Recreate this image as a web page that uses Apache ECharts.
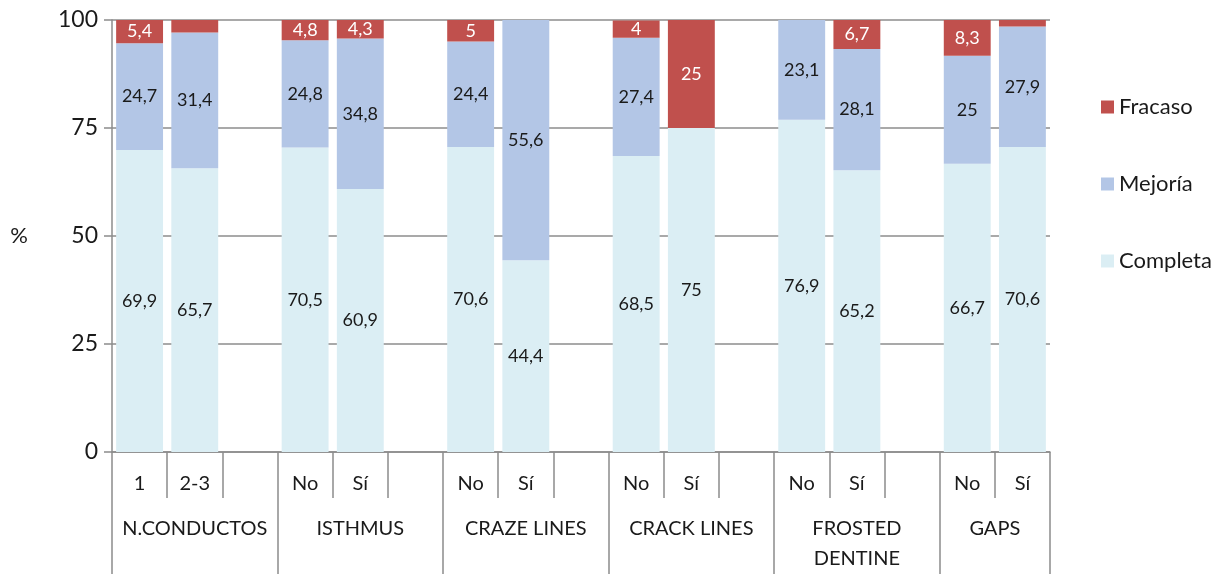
<!DOCTYPE html>
<html>
<head>
<meta charset="utf-8">
<script src="https://cdn.jsdelivr.net/npm/echarts@6/dist/echarts.min.js"></script>
<style>
  html, body { margin: 0; padding: 0; background: #fff; }
  #chart { width: 1231px; height: 574px; }
</style>
</head>
<body>
<div id="chart"></div>
<script>
// Factor groups and their sub-categories
const groups = ['N.CONDUCTOS', 'ISTHMUS', 'CRAZE LINES', 'CRACK LINES', 'FROSTED\nDENTINE', 'GAPS'];
const subLabels = [['1', '2-3'], ['No', 'Sí'], ['No', 'Sí'], ['No', 'Sí'], ['No', 'Sí'], ['No', 'Sí']];

// Outcome percentages per group (one value per sub-category)
const completa = [[69.9, 65.7], [70.5, 60.9], [70.6, 44.4], [68.5, 75], [76.9, 65.2], [66.7, 70.6]];
const mejoria  = [[24.7, 31.4], [24.8, 34.8], [24.4, 55.6], [27.4, 0],  [23.1, 28.1], [25, 27.9]];
const fracaso  = [[5.4, 2.9],   [4.8, 4.3],   [5, 0],       [4, 25],    [0, 6.7],     [8.3, 1.5]];

const yTicks = [0, 25, 50, 75, 100];

// Build the flat slot list: each group's bars followed by an empty spacer slot
const slots = [];
const dCompleta = [], dMejoria = [], dFracaso = [];
const groupCenters = {};
groups.forEach((g, gi) => {
  const start = slots.length;
  subLabels[gi].forEach((s, si) => {
    slots.push(s);
    dCompleta.push(completa[gi][si]);
    dMejoria.push(mejoria[gi][si]);
    dFracaso.push(fracaso[gi][si]);
  });
  if (gi < groups.length - 1) {
    slots.push('');
    dCompleta.push(null); dMejoria.push(null); dFracaso.push(null);
  }
  const end = slots.length;
  groupCenters[((start + end) / 2).toFixed(1)] = g;
});
const nSlots = slots.length;

const FONT = 'Lato, "Open Sans", "Noto Sans", sans-serif';
const GRID_COL = '#8c8c8c';
const TEXT_COL = '#1a1a1a';

const fmt = v => String(v).replace('.', ',');
const labelFor = color => ({
  show: true,
  position: 'inside',
  fontFamily: FONT,
  fontSize: 18,
  color: color,
  formatter: p => (p.value == null || p.value < 3) ? '' : fmt(p.value)
});

const chart = echarts.init(document.getElementById('chart'), null, { renderer: 'canvas' });

chart.setOption({
  animation: false,
  backgroundColor: '#ffffff',
  textStyle: { fontFamily: FONT },
  grid: { left: 112, right: 181, top: 20, bottom: 119, containLabel: false },
  legend: {
    orient: 'vertical',
    left: 1096,
    top: 90,
    icon: 'rect',
    itemWidth: 13,
    itemHeight: 13,
    itemGap: 53,
    data: ['Fracaso', 'Mejoría', 'Completa'],
    textStyle: { fontFamily: FONT, fontSize: 22, color: TEXT_COL, lineHeight: 24 }
  },
  xAxis: [
    {
      type: 'category',
      data: slots,
      position: 'bottom',
      axisLine: { show: true, lineStyle: { color: GRID_COL, width: 1.5 } },
      axisTick: { show: true, length: 46, lineStyle: { color: GRID_COL, width: 1.5 } },
      axisLabel: { fontFamily: FONT, fontSize: 20, color: TEXT_COL, margin: 22, interval: 0 }
    },
    {
      // group separators
      type: 'value',
      min: 0,
      max: nSlots,
      interval: 3,
      position: 'bottom',
      axisLine: { show: false },
      axisTick: { show: true, length: 125, lineStyle: { color: GRID_COL, width: 1.5 } },
      axisLabel: { show: false },
      splitLine: { show: false }
    },
    {
      // group names
      type: 'value',
      min: 0,
      max: nSlots,
      interval: 0.5,
      position: 'bottom',
      axisLine: { show: false },
      axisTick: { show: false },
      splitLine: { show: false },
      axisLabel: {
        show: true,
        margin: 62,
        fontFamily: FONT,
        fontSize: 20,
        color: TEXT_COL,
        lineHeight: 30,
        showMinLabel: true,
        showMaxLabel: true,
        formatter: v => groupCenters[Number(v).toFixed(1)] || ''
      }
    }
  ],
  yAxis: {
    type: 'value',
    min: yTicks[0],
    max: yTicks[yTicks.length - 1],
    interval: yTicks[1] - yTicks[0],
    name: '%',
    nameLocation: 'middle',
    nameRotate: 0,
    nameGap: 84,
    nameTextStyle: { fontFamily: FONT, fontSize: 22, color: TEXT_COL, padding: [8, 0, 0, 0] },
    axisLine: { show: true, lineStyle: { color: GRID_COL, width: 1.5 } },
    axisTick: { show: true, length: 8, lineStyle: { color: GRID_COL, width: 1.5 } },
    axisLabel: { fontFamily: FONT, fontSize: 23, color: TEXT_COL, margin: 14 },
    splitLine: { show: true, lineStyle: { color: GRID_COL, width: 1.5 } }
  },
  series: [
    {
      name: 'Completa', type: 'bar', stack: 'total', xAxisIndex: 0,
      barCategoryGap: '15%',
      itemStyle: { color: '#dbeef4' },
      label: labelFor(TEXT_COL),
      data: dCompleta
    },
    {
      name: 'Mejoría', type: 'bar', stack: 'total', xAxisIndex: 0,
      barCategoryGap: '15%',
      itemStyle: { color: '#b3c6e6' },
      label: labelFor(TEXT_COL),
      data: dMejoria
    },
    {
      name: 'Fracaso', type: 'bar', stack: 'total', xAxisIndex: 0,
      barCategoryGap: '15%',
      itemStyle: { color: '#c0504d' },
      label: labelFor('#ffffff'),
      data: dFracaso
    }
  ]
});
</script>
</body>
</html>
